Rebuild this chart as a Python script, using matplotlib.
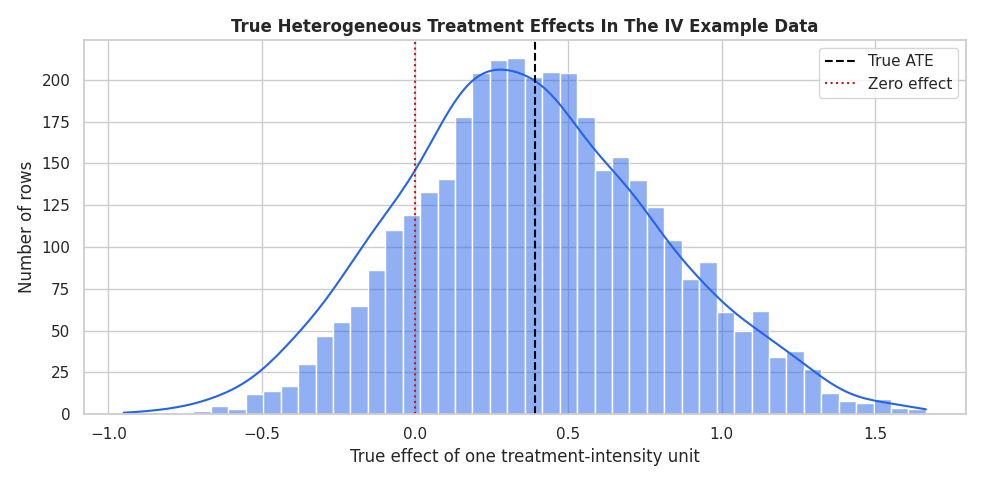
import numpy as np
import matplotlib.pyplot as plt
import seaborn as sns

sns.set_theme(style="whitegrid")

# bar counts, 46 equal bins
counts = [0, 0, 1, 1, 2, 5, 3, 12, 14, 17, 30, 47, 55, 65, 86, 110, 119, 133, 141,
          178, 204, 212, 213, 202, 205, 204, 178, 146, 154, 140, 124, 104, 81, 91,
          61, 50, 62, 34, 38, 27, 13, 8, 7, 9, 4, 3]
lo, hi = -0.95, 1.666
edges = np.linspace(lo, hi, len(counts) + 1)
centers = (edges[:-1] + edges[1:]) / 2
effects = np.repeat(centers, counts)
true_ate = 0.39

fig, ax = plt.subplots(figsize=(9.84, 4.84))
sns.histplot(effects, bins=edges, kde=True, color="#2563eb", alpha=0.5,
             edgecolor="white", linewidth=1, kde_kws={"cut": 0, "bw_adjust": 1.1},
             line_kws={"linewidth": 1.5}, ax=ax)
ax.lines[0].set_xdata(np.linspace(lo, hi, len(ax.lines[0].get_xdata())))
ax.axvline(true_ate, color="black", linestyle="--", linewidth=1.5, label="True ATE")
ax.axvline(0, color="#b91c1c", linestyle=":", linewidth=1.5, label="Zero effect")
ax.set_title("True Heterogeneous Treatment Effects In The IV Example Data", fontweight="bold")
ax.set_xlabel("True effect of one treatment-intensity unit")
ax.set_ylabel("Number of rows")
ax.legend(loc="upper right")
plt.tight_layout()
plt.savefig("out.png", dpi=100)
